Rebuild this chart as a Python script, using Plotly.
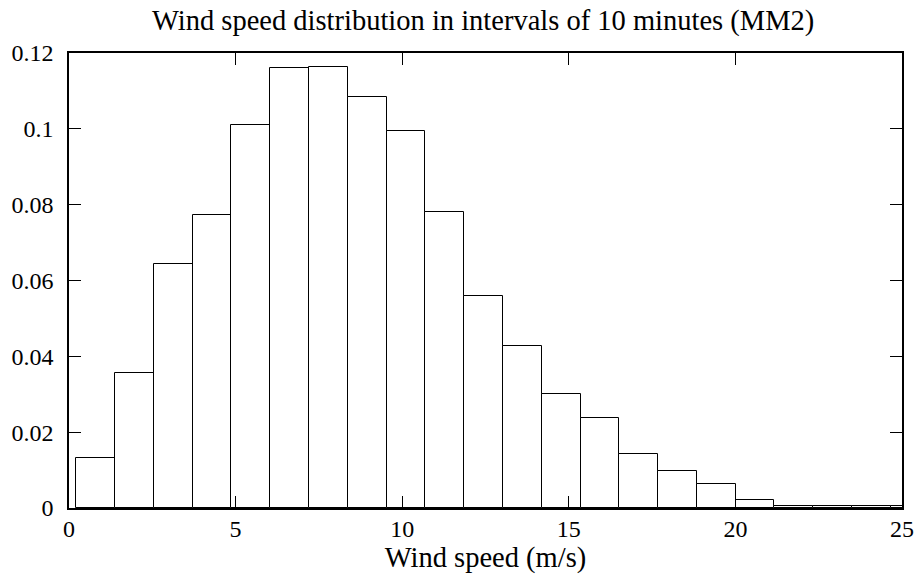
import plotly.graph_objects as go

# Bin layout and relative frequencies
bin_start = 0.22
bin_width = 1.164
freq = [0.0133, 0.0357, 0.0644, 0.0774, 0.1009, 0.1160, 0.1162, 0.1083,
        0.0994, 0.0781, 0.0560, 0.0428, 0.0301, 0.0237, 0.0142, 0.0097,
        0.0062, 0.0020, 0.0005, 0.0004, 0.0004, 0.0005]
centers = [bin_start + bin_width * (i + 0.5) for i in range(len(freq))]

x_ticks = [0, 5, 10, 15, 20, 25]
y_ticks = [0, 0.02, 0.04, 0.06, 0.08, 0.1, 0.12]
y_labels = ["0", "0.02", "0.04", "0.06", "0.08", "0.1", "0.12"]

FONT = "Liberation Serif"

fig = go.Figure(go.Bar(
    x=centers, y=freq, width=bin_width,
    marker=dict(color="white", line=dict(color="black", width=1)),
    hoverinfo="x+y",
))

fig.update_layout(
    width=922, height=576,
    margin=dict(l=69, r=20, t=53, b=68, autoexpand=False),
    paper_bgcolor="white", plot_bgcolor="white",
    font=dict(family=FONT, size=24, color="black"),
    showlegend=False,
    title=dict(text="Wind speed distribution in intervals of 10 minutes (MM2)",
               x=0.524, xanchor="center", y=0.966, yanchor="middle",
               font=dict(family=FONT, size=28.5, color="black")),
    bargap=0,
)
fig.update_xaxes(
    range=[0, 25], tickvals=x_ticks, ticktext=[str(v) for v in x_ticks],
    ticks="inside", ticklen=12, tickwidth=1, tickcolor="black",
    showline=True, linecolor="black", linewidth=1.5, mirror="ticks",
    showgrid=False, zeroline=False, automargin=False,
    title=dict(text="Wind speed (m/s)", standoff=0, font=dict(family=FONT, size=28.5)),
    tickfont=dict(family=FONT, size=24),
    ticklabelstandoff=-2,
)
fig.update_yaxes(
    range=[0, 0.12], tickvals=y_ticks, ticktext=y_labels,
    ticks="inside", ticklen=12, tickwidth=1, tickcolor="black",
    showline=True, linecolor="black", linewidth=1.5, mirror="ticks",
    showgrid=False, zeroline=False, automargin=False,
    tickfont=dict(family=FONT, size=24),
    ticklabelstandoff=9,
)

fig.write_html("out.html", config={"displayModeBar": False},
               post_script="document.body.style.margin='0';document.body.style.padding='0';")
